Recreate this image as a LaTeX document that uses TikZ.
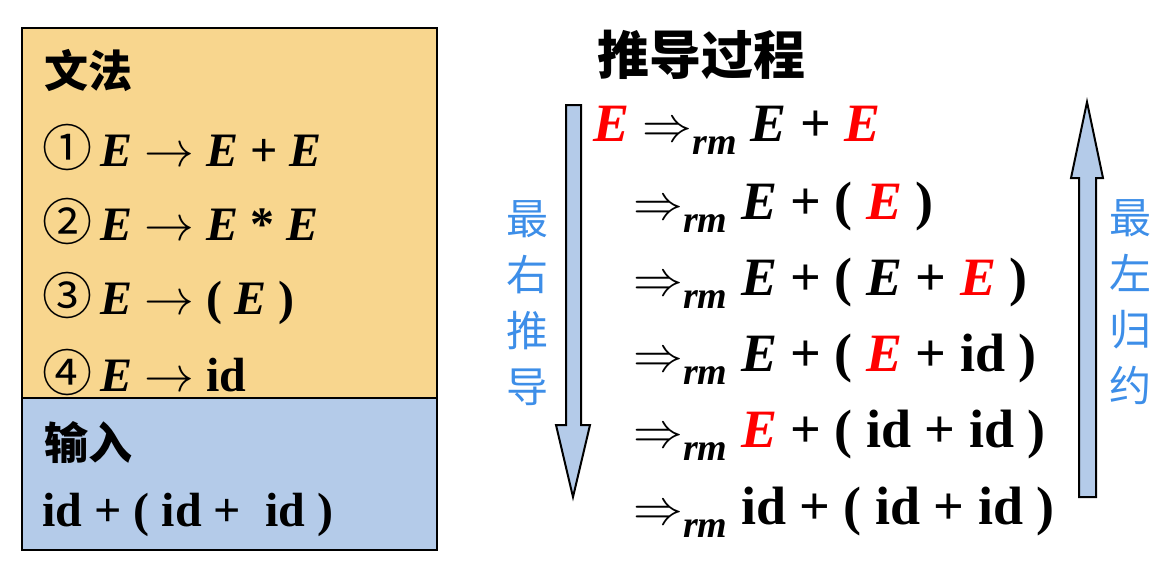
\documentclass[tikz,border=0pt]{standalone}
\usepackage{fontspec}
\setmainfont{Liberation Serif}
\newfontfamily\cjk{Noto Sans CJK SC}
\usetikzlibrary{positioning}
\definecolor{gramyellow}{RGB}{248,214,142}
\definecolor{inputblue}{RGB}{180,203,233}
\definecolor{labelblue}{RGB}{61,142,232}
\newcommand\nt{\textbf{\textit{E}}}
\newcommand\rnt{\textcolor{red}{\nt}}
\newcommand\drv{$\Rightarrow$\raisebox{-6.5pt}{\fontsize{19}{19}\selectfont\textbf{\textit{rm}}}}
\newcommand\circnum[1]{{\cjk\mdseries\fontsize{25}{25}\selectfont #1}}
\begin{document}
\begin{tikzpicture}[x=0.5pt,y=-0.5pt,
  every node/.style={inner sep=0pt},
  cjkhead/.style={font=\cjk\bfseries\fontsize{22}{22}\selectfont,anchor=west},
  gramrule/.style={font=\fontsize{24}{24}\selectfont\bfseries,anchor=west},
  derivrow/.style={font=\fontsize{27}{27}\selectfont\bfseries,anchor=west},
  sidelabel/.style={font=\cjk\fontsize{21}{28}\selectfont,text=labelblue,align=center},
  blockarrow/.style={draw=black,line width=1pt,fill=inputblue,line join=miter}]
\useasboundingbox (0,0) rectangle (1172,563);

% grammar and input box
\fill[gramyellow] (22,28) rectangle (437,398);
\fill[inputblue] (22,398) rectangle (437,550);
\draw[line width=1pt] (22,28) rectangle (437,550);
\draw[line width=1pt] (22,398) -- (437,398);

\node[cjkhead] (gram) at (44,70) {文法};
\node[gramrule] (r1) at (42,147) {\circnum{①}\,\nt\ $\rightarrow$ \nt\ + \nt};
\node[gramrule] (r2) at (42,221) {\circnum{②}\,\nt\ $\rightarrow$ \nt\ * \nt};
\node[gramrule] (r3) at (42,298) {\circnum{③}\,\nt\ $\rightarrow$ ( \nt\ )};
\node[gramrule] (r4) at (42,372) {\circnum{④}\,\nt\ $\rightarrow$ id};
\node[cjkhead] (inp) at (44,443) {输入};
\node[gramrule] (str) at (42,515) {id + ( id + \ id )};

% derivation
\node[font=\cjk\bfseries\fontsize{26}{26}\selectfont,anchor=west] (title) at (597,55) {推导过程};
\node[derivrow] (d1) at (593,130) {\rnt\ \drv\ \nt\ + \rnt};
\node[derivrow] (d2) at (633,207) {\drv\ \nt\ + ( \rnt\ )};
\node[derivrow] (d3) at (633,283) {\drv\ \nt\ + ( \nt\ + \rnt\ )};
\node[derivrow] (d4) at (633,359) {\drv\ \nt\ + ( \rnt\ + id )};
\node[derivrow] (d5) at (633,435) {\drv\ \rnt\ + ( id + id )};
\node[derivrow] (d6) at (633,512) {\drv\ id + ( id + id )};

% direction arrows
\draw[blockarrow] (566,105) -- (581,105) -- (581,425) -- (590,425) -- (573,497)
  -- (556,425) -- (566,425) -- cycle;
\draw[blockarrow] (1079,497) -- (1096,497) -- (1096,178) -- (1103,178) -- (1087,102)
  -- (1071,178) -- (1079,178) -- cycle;
\node[sidelabel] (rmd) at (527,303) {最\\右\\推\\导};
\node[sidelabel] (lmr) at (1130,302) {最\\左\\归\\约};
\end{tikzpicture}
\end{document}
